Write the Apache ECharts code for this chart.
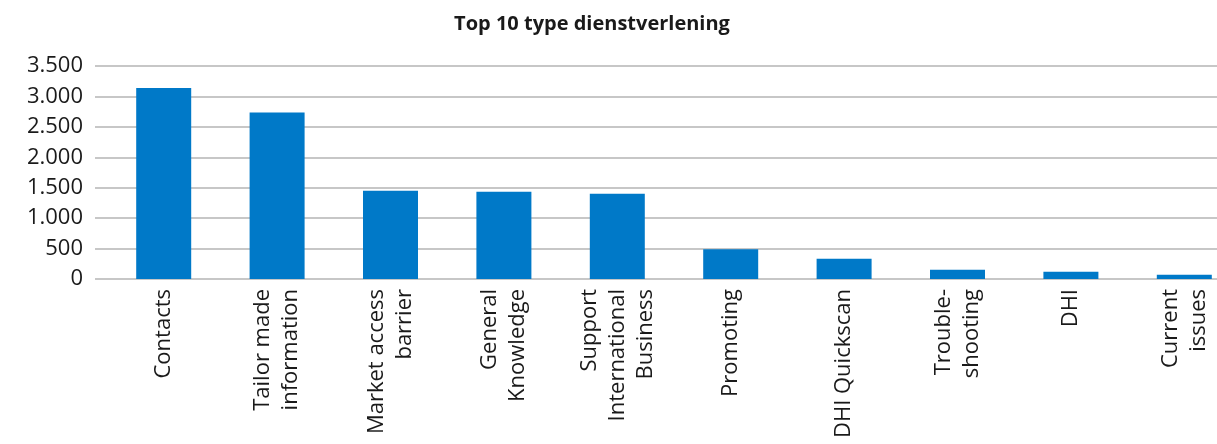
<!DOCTYPE html>
<html><head><meta charset="utf-8">
<script src="https://cdn.jsdelivr.net/npm/echarts@6/dist/echarts.min.js"></script>
<style>html,body{margin:0;padding:0;background:#fff}#c{width:1217px;height:444px}</style>
</head><body><div id="c"></div>
<script>
const title = 'Top 10 type dienstverlening';
const categories = ['Contacts', 'Tailor made\ninformation', 'Market access\nbarrier', 'General\nKnowledge', 'Support\nInternational\nBusiness', 'Promoting', 'DHI Quickscan', 'Trouble-\nshooting', 'DHI', 'Current\nissues'];
const values = [3140, 2735, 1450, 1434, 1400, 490, 334, 153, 120, 71];
const yTicks = [0, 500, 1000, 1500, 2000, 2500, 3000, 3500];

const fmt = v => String(v).replace(/\B(?=(\d{3})+(?!\d))/g, '.');
const chart = echarts.init(document.getElementById('c'));
const TOP = 66, BOTTOM = 444 - 279;
chart.setOption({
  animation: false,
  title: {text: title, left: 587, top: 9, textAlign: 'center',
    textStyle: {fontFamily: 'Open Sans', fontWeight: 'bold', fontSize: 20, color: '#1a1a1a'}},
  grid: [
    {left: 95, right: 0, top: TOP, bottom: BOTTOM, outerBoundsMode: 'none'},
    {left: 107, width: 1134, top: TOP, bottom: BOTTOM, outerBoundsMode: 'none'}
  ],
  xAxis: [
    {gridIndex: 0, type: 'value', show: false, min: 0, max: 1},
    {gridIndex: 1, type: 'category', data: categories,
      axisLine: {show: false}, axisTick: {show: false},
      axisLabel: {rotate: 90, margin: 10, fontFamily: 'Open Sans', fontSize: 22, lineHeight: 28, color: '#1a1a1a', interval: 0}}
  ],
  yAxis: [
    {gridIndex: 0, type: 'value', min: 0, max: 3500, interval: 500,
      axisLine: {show: false}, axisTick: {show: false},
      splitLine: {lineStyle: {color: '#b4b4b4', width: 1.5}},
      axisLabel: {margin: 12, fontFamily: 'Open Sans', fontSize: 22, color: '#1a1a1a', formatter: v => yTicks.includes(v) ? fmt(v) : ''}},
    {gridIndex: 1, type: 'value', min: 0, max: 3500, interval: 500, show: false, splitLine: {show: false}}
  ],
  series: [{
    type: 'bar', xAxisIndex: 1, yAxisIndex: 1, data: values, barWidth: 55,
    itemStyle: {color: '#0079c8'}
  }]
});
</script></body></html>
